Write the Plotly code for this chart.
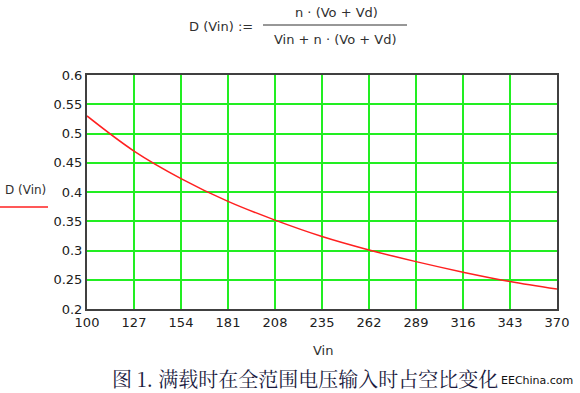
import plotly.graph_objects as go

vin = [100, 127, 154, 181, 208, 235, 262, 289, 316, 343, 370]
duty = [0.530, 0.470, 0.423, 0.384, 0.352, 0.324, 0.301, 0.281, 0.263, 0.247, 0.234]
x_ticks = [100, 127, 154, 181, 208, 235, 262, 289, 316, 343, 370]
y_ticks = [0.2, 0.25, 0.3, 0.35, 0.4, 0.45, 0.5, 0.55, 0.6]
y_labels = ["0.2", "0.25", "0.3", "0.35", "0.4", "0.45", "0.5", "0.55", "0.6"]

W, H = 580, 393
L, R, T, B = 87, 557, 75, 309

def px(p):
    return (p - L) / (R - L)

def py(p):
    return (B - p) / (B - T)

fig = go.Figure()
fig.add_trace(go.Scatter(x=vin, y=duty, mode="lines",
                         line=dict(color="#ff2020", width=1.5, shape="spline"),
                         showlegend=False, hoverinfo="skip"))

tickfont = dict(family="DejaVu Sans", size=13, color="#202020")
fig.update_xaxes(range=[100, 370], tickvals=x_ticks, ticktext=[str(v) for v in x_ticks],
                 showgrid=True, gridcolor="#22ee22", gridwidth=2,
                 showline=True, linecolor="#404040", linewidth=2, mirror=True,
                 zeroline=False, ticks="", tickfont=tickfont)
fig.update_yaxes(range=[0.2, 0.6], tickvals=y_ticks, ticktext=y_labels,
                 showgrid=True, gridcolor="#22ee22", gridwidth=2,
                 showline=True, linecolor="#404040", linewidth=2, mirror=True,
                 zeroline=False, ticks="", tickfont=tickfont)

anns = []
lbl = dict(family="DejaVu Sans", size=13, color="#303030")
anns.append(dict(text="D (Vin) :=", x=px(221), y=py(26), xref="paper", yref="paper",
                 showarrow=False, font=lbl, xanchor="center", yanchor="middle"))
anns.append(dict(text="n · (Vo + Vd)", x=px(336), y=py(12), xref="paper", yref="paper",
                 showarrow=False, font=lbl, xanchor="center", yanchor="middle"))
anns.append(dict(text="Vin + n · (Vo + Vd)", x=px(335), y=py(39), xref="paper", yref="paper",
                 showarrow=False, font=lbl, xanchor="center", yanchor="middle"))
anns.append(dict(text="D (Vin)", x=px(3), y=py(190), xref="paper", yref="paper",
                 showarrow=False, font=dict(family="DejaVu Sans", size=12, color="#303030"),
                 xanchor="left", yanchor="middle"))
anns.append(dict(text="Vin", x=px(323), y=py(350), xref="paper", yref="paper",
                 showarrow=False, font=lbl, xanchor="center", yanchor="middle"))
anns.append(dict(text="图 1. 满载时在全范围电压输入时占空比变化", x=px(110), y=py(378),
                 xref="paper", yref="paper", showarrow=False,
                 font=dict(family="Noto Serif CJK SC, Noto Sans CJK SC", size=20, color="#1a1a40"),
                 xanchor="left", yanchor="middle"))
anns.append(dict(text="EEChina.com", x=px(575), y=py(380), xref="paper", yref="paper",
                 showarrow=False, font=dict(family="DejaVu Sans", size=11, color="#101010"),
                 xanchor="right", yanchor="middle"))

shapes = [
    dict(type="line", xref="paper", yref="paper", x0=px(263), x1=px(407), y0=py(25), y1=py(25),
         line=dict(color="#303030", width=1)),
    dict(type="line", xref="paper", yref="paper", x0=px(0), x1=px(48), y0=py(207), y1=py(207),
         line=dict(color="#ff2020", width=1.5)),
]

fig.update_layout(width=W, height=H, margin=dict(l=L, r=W - R, t=T, b=H - B),
                  paper_bgcolor="white", plot_bgcolor="white",
                  annotations=anns, shapes=shapes, showlegend=False)
fig.write_html("out.html", config={"displayModeBar": False},
               post_script="document.body.style.margin='0';document.body.style.overflow='hidden';")
